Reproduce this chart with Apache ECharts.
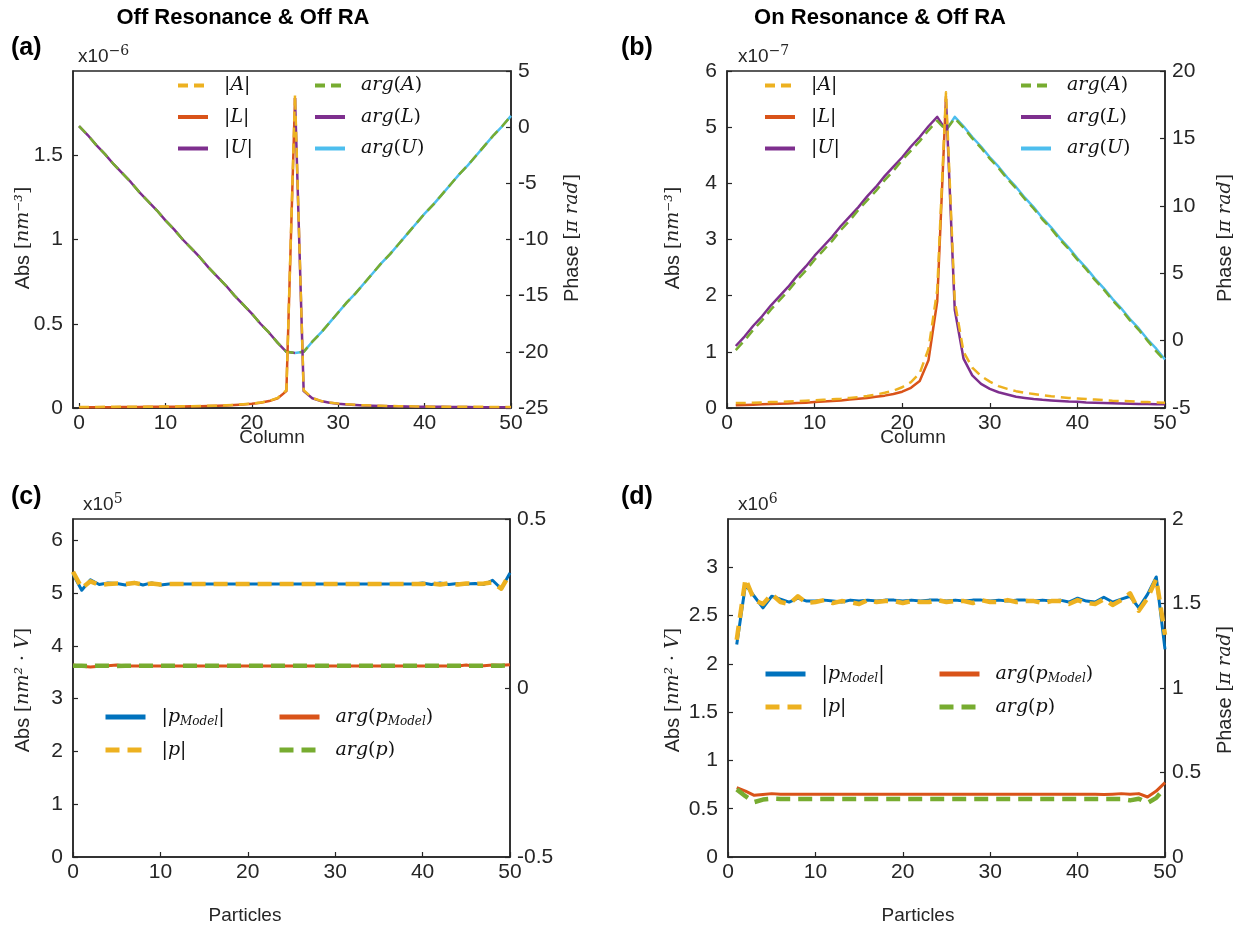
<!DOCTYPE html>
<html>
<head>
<meta charset="utf-8">
<script src="https://cdn.jsdelivr.net/npm/echarts@6/dist/echarts.min.js"></script>
<style>
  html, body { margin: 0; padding: 0; background: #fff; }
  #main { width: 1243px; height: 932px; }
</style>
</head>
<body>
<div id="main"></div>
<script>
// ---------- (a) Off resonance: column profile (abs in 1e-6 nm^-3, phase in pi rad) ----------
const offCols = [0,1,2,3,4,5,6,7,8,9,10,11,12,13,14,15,16,17,18,19,20,21,22,23,24,25,
  26,27,28,29,30,31,32,33,34,35,36,37,38,39,40,41,42,43,44,45,46,47,48,49,50];
const offAbsA = [0.006,0.006,0.006,0.007,0.007,0.007,0.007,0.008,0.008,0.008,
  0.009,0.009,0.010,0.011,0.012,0.013,0.014,0.016,0.019,0.022,
  0.026,0.032,0.042,0.060,0.105,1.86,0.105,0.060,0.042,0.032,
  0.026,0.022,0.019,0.016,0.014,0.013,0.012,0.011,0.010,0.009,
  0.009,0.008,0.008,0.008,0.007,0.007,0.007,0.007,0.006,0.006,
  0.006];
const offAbsL = [0.004,0.004,0.005,0.005,0.005,0.006,0.006,0.006,0.007,0.007,
  0.008,0.008,0.009,0.010,0.011,0.012,0.013,0.015,0.018,0.021,
  0.025,0.031,0.041,0.058,0.100,1.84];
const offAbsU = [1.84,0.100,0.058,0.041,0.031,0.025,0.021,0.018,0.015,0.013,
  0.012,0.011,0.010,0.009,0.008,0.008,0.007,0.007,0.006,0.006,
  0.006,0.005,0.005,0.005,0.004,0.004];
const offArgA = [0.1,-0.7,-1.6,-2.4,-3.3,-4.1,-4.9,-5.8,-6.6,-7.4,
  -8.3,-9.1,-10.0,-10.8,-11.6,-12.5,-13.3,-14.1,-15.0,-15.8,
  -16.6,-17.5,-18.3,-19.2,-20.0,-20.1,-20.0,-19.1,-18.3,-17.4,
  -16.5,-15.6,-14.8,-13.9,-13.0,-12.1,-11.3,-10.4,-9.5,-8.6,
  -7.7,-6.9,-6.0,-5.1,-4.2,-3.4,-2.5,-1.6,-0.7,0.1,
  1.0];
const offArgL = [0.1,-0.7,-1.6,-2.4,-3.3,-4.1,-4.9,-5.8,-6.6,-7.4,
  -8.3,-9.1,-10.0,-10.8,-11.6,-12.5,-13.3,-14.1,-15.0,-15.8,
  -16.6,-17.5,-18.3,-19.2,-20.0,-20.1];
const offArgU = [-20.1,-20.0,-19.1,-18.3,-17.4,-16.5,-15.6,-14.8,-13.9,-13.0,
  -12.1,-11.3,-10.4,-9.5,-8.6,-7.7,-6.9,-6.0,-5.1,-4.2,
  -3.4,-2.5,-1.6,-0.7,0.1,1.0];

// ---------- (b) On resonance: column profile (abs in 1e-7 nm^-3, phase in pi rad) ----------
const onCols = [1,2,3,4,5,6,7,8,9,10,11,12,13,14,15,16,17,18,19,20,21,22,23,24,25,
  26,27,28,29,30,31,32,33,34,35,36,37,38,39,40,41,42,43,44,45,46,47,48,49,50];
const onAbsA = [0.09,0.09,0.095,0.10,0.105,0.11,0.115,0.12,0.13,0.135,
  0.145,0.155,0.165,0.18,0.195,0.215,0.24,0.27,0.31,0.37,
  0.46,0.62,1.05,2.1,5.62,1.9,1.0,0.72,0.57,0.47,
  0.39,0.34,0.30,0.27,0.25,0.23,0.21,0.195,0.18,0.17,
  0.16,0.15,0.14,0.13,0.125,0.12,0.11,0.105,0.10,0.095];
const onAbsL = [0.05,0.055,0.06,0.065,0.07,0.075,0.08,0.09,0.095,0.105,
  0.115,0.125,0.135,0.15,0.165,0.18,0.2,0.22,0.25,0.29,
  0.36,0.48,0.85,1.9,5.55];
const onAbsU = [5.5,1.75,0.88,0.58,0.43,0.34,0.28,0.24,0.2,0.18,
  0.16,0.145,0.135,0.125,0.115,0.11,0.1,0.095,0.09,0.085,
  0.08,0.077,0.073,0.07,0.067,0.065];
const onArgA = [-0.7,0.0,0.8,1.5,2.3,3.0,3.7,4.5,5.2,6.0,
  6.7,7.4,8.2,8.9,9.7,10.4,11.1,11.9,12.6,13.4,
  14.1,14.8,15.6,16.3,15.6,16.5,15.8,15.0,14.3,13.5,
  12.8,12.0,11.3,10.5,9.8,9.0,8.3,7.5,6.8,6.0,
  5.3,4.5,3.8,3.0,2.3,1.5,0.8,0.0,-0.8,-1.5];
const onArgL = [-0.4,0.3,1.1,1.8,2.6,3.3,4.0,4.8,5.5,6.3,
  7.0,7.7,8.5,9.2,9.9,10.7,11.4,12.2,12.9,13.6,
  14.4,15.1,15.9,16.6,15.6];
const onArgU = [15.6,16.6,15.9,15.1,14.4,13.6,12.9,12.1,11.4,10.6,
  9.9,9.1,8.4,7.6,6.9,6.1,5.4,4.6,3.9,3.1,
  2.4,1.6,0.9,0.1,-0.6,-1.4];

// ---------- (c) Off resonance: particle moments (abs in 1e5 nm^2 V, phase in pi rad) ----------
const offParticles = [0,1,2,3,4,5,6,7,8,9,10,11,12,13,14,15,16,17,18,19,20,21,22,23,24,25,
  26,27,28,29,30,31,32,33,34,35,36,37,38,39,40,41,42,43,44,45,46,47,48,49,50];
const offPModelAbs = [5.36,5.05,5.25,5.16,5.19,5.18,5.15,5.20,5.15,5.19,
  5.15,5.17,5.17,5.17,5.17,5.17,5.17,5.17,5.17,5.17,
  5.17,5.17,5.17,5.17,5.17,5.17,5.17,5.17,5.17,5.17,
  5.17,5.17,5.17,5.17,5.17,5.17,5.17,5.17,5.17,5.17,
  5.19,5.16,5.19,5.16,5.18,5.17,5.18,5.16,5.24,5.08,
  5.38];
const offPAbs = [5.40,5.09,5.22,5.15,5.17,5.18,5.17,5.19,5.16,5.18,
  5.16,5.17,5.17,5.17,5.17,5.17,5.17,5.17,5.17,5.17,
  5.17,5.17,5.17,5.17,5.17,5.17,5.17,5.17,5.17,5.17,
  5.17,5.17,5.17,5.17,5.17,5.17,5.17,5.17,5.17,5.17,
  5.17,5.18,5.16,5.18,5.16,5.18,5.17,5.18,5.20,5.08,
  5.37];
const offPModelArg = [0.068,0.064,0.062,0.064,0.066,0.068,0.065,0.065,0.065,0.065,
  0.065,0.065,0.065,0.065,0.065,0.065,0.065,0.065,0.065,0.065,
  0.065,0.065,0.065,0.065,0.065,0.065,0.065,0.065,0.065,0.065,
  0.065,0.065,0.065,0.065,0.065,0.065,0.065,0.065,0.065,0.065,
  0.065,0.065,0.065,0.065,0.065,0.068,0.064,0.066,0.068,0.067,
  0.069];
const offPArg = [0.066,0.066,0.065,0.066,0.066,0.065,0.066,0.066,0.066,0.066,
  0.066,0.066,0.066,0.066,0.066,0.066,0.066,0.066,0.066,0.066,
  0.066,0.066,0.066,0.066,0.066,0.066,0.066,0.066,0.066,0.066,
  0.066,0.066,0.066,0.066,0.066,0.066,0.066,0.066,0.066,0.066,
  0.066,0.066,0.066,0.066,0.066,0.066,0.066,0.066,0.066,0.066,
  0.067];

// ---------- (d) On resonance: particle moments (abs in 1e6 nm^2 V, phase in pi rad) ----------
const onParticles = [1,2,3,4,5,6,7,8,9,10,11,12,13,14,15,16,17,18,19,20,21,22,23,24,25,
  26,27,28,29,30,31,32,33,34,35,36,37,38,39,40,41,42,43,44,45,46,47,48,49,50];
const onPModelAbs = [2.20,2.82,2.70,2.58,2.70,2.67,2.64,2.68,2.65,2.65,
  2.66,2.65,2.64,2.66,2.65,2.66,2.65,2.66,2.66,2.65,
  2.66,2.65,2.66,2.66,2.65,2.66,2.65,2.66,2.66,2.65,
  2.66,2.65,2.66,2.66,2.65,2.66,2.65,2.66,2.64,2.68,
  2.65,2.64,2.69,2.64,2.67,2.70,2.58,2.72,2.90,2.15];
const onPAbs = [2.25,2.88,2.66,2.62,2.72,2.64,2.62,2.70,2.63,2.64,
  2.66,2.63,2.65,2.64,2.62,2.66,2.64,2.65,2.65,2.63,
  2.65,2.64,2.64,2.66,2.64,2.65,2.65,2.63,2.66,2.64,
  2.64,2.66,2.64,2.65,2.65,2.63,2.65,2.65,2.62,2.66,
  2.63,2.62,2.67,2.61,2.66,2.73,2.55,2.68,2.88,2.30];
const onPModelArg = [0.41,0.39,0.365,0.37,0.375,0.372,0.372,0.372,0.372,0.372,
  0.372,0.372,0.372,0.372,0.372,0.372,0.372,0.372,0.372,0.372,
  0.372,0.372,0.372,0.372,0.372,0.372,0.372,0.372,0.372,0.372,
  0.372,0.372,0.372,0.372,0.372,0.372,0.372,0.372,0.372,0.372,
  0.372,0.372,0.37,0.372,0.375,0.372,0.375,0.355,0.39,0.44];
const onPArg = [0.40,0.36,0.325,0.34,0.345,0.343,0.343,0.343,0.343,0.343,
  0.343,0.343,0.343,0.343,0.343,0.343,0.343,0.343,0.343,0.343,
  0.343,0.343,0.343,0.343,0.343,0.343,0.343,0.343,0.343,0.343,
  0.343,0.343,0.343,0.343,0.343,0.343,0.343,0.343,0.343,0.343,
  0.343,0.343,0.343,0.343,0.343,0.335,0.345,0.32,0.35,0.41];

// ---------- styling ----------
const C = {
  blue: '#0072BD', orange: '#D95319', yellow: '#EDB120',
  purple: '#7E2F8E', green: '#77AC30', cyan: '#4DBEEE'
};
const SANS = '"Liberation Sans", Arial, sans-serif';
const SERIF = '"DejaVu Serif", serif';
const INK = '#262626';

const pts = (xs, ys) => ys.map((v, i) => [xs[i], v]);

function line(name, g, side, data, color, width, dash) {
  return {
    type: 'line', name: name, xAxisIndex: g, yAxisIndex: g * 2 + side,
    data: data, symbol: 'none', showSymbol: false, silent: true, animation: false,
    lineStyle: { color: color, width: width, type: dash || 'solid', cap: 'butt', join: 'round' },
    itemStyle: { color: color }
  };
}

const DASH_S = [10, 6];
const DASH_L = [14, 8];

const series = [
  // (a) phase
  line('a:arg(L)', 0, 1, pts(offCols.slice(0, 26), offArgL), C.purple, 2.5),
  line('a:arg(U)', 0, 1, pts(offCols.slice(25), offArgU), C.cyan, 2.5),
  line('a:arg(A)', 0, 1, pts(offCols, offArgA), C.green, 2.5, DASH_S),
  // (a) abs
  line('a:|L|', 0, 0, pts(offCols.slice(0, 26), offAbsL), C.orange, 2.5),
  line('a:|U|', 0, 0, pts(offCols.slice(25), offAbsU), C.purple, 2.5),
  line('a:|A|', 0, 0, pts(offCols, offAbsA), C.yellow, 2.5, DASH_S),
  // (b) phase
  line('b:arg(L)', 1, 1, pts(onCols.slice(0, 25), onArgL), C.purple, 2.5),
  line('b:arg(U)', 1, 1, pts(onCols.slice(24), onArgU), C.cyan, 2.5),
  line('b:arg(A)', 1, 1, pts(onCols, onArgA), C.green, 2.5, DASH_S),
  // (b) abs
  line('b:|L|', 1, 0, pts(onCols.slice(0, 25), onAbsL), C.orange, 2.5),
  line('b:|U|', 1, 0, pts(onCols.slice(24), onAbsU), C.purple, 2.5),
  line('b:|A|', 1, 0, pts(onCols, onAbsA), C.yellow, 2.5, DASH_S),
  // (c)
  line('c:|p_Model|', 2, 0, pts(offParticles, offPModelAbs), C.blue, 3),
  line('c:|p|', 2, 0, pts(offParticles, offPAbs), C.yellow, 4.5, DASH_L),
  line('c:arg(p_Model)', 2, 1, pts(offParticles, offPModelArg), C.orange, 3),
  line('c:arg(p)', 2, 1, pts(offParticles, offPArg), C.green, 4.5, DASH_L),
  // (d)
  line('d:|p_Model|', 3, 0, pts(onParticles, onPModelAbs), C.blue, 3),
  line('d:|p|', 3, 0, pts(onParticles, onPAbs), C.yellow, 4.5, DASH_L),
  line('d:arg(p_Model)', 3, 1, pts(onParticles, onPModelArg), C.orange, 3),
  line('d:arg(p)', 3, 1, pts(onParticles, onPArg), C.green, 4.5, DASH_L)
];

// ---------- grids & axes ----------
const grids = [
  { left: 73, top: 71, width: 438, height: 337 },
  { left: 727, top: 71, width: 438, height: 337 },
  { left: 73, top: 519, width: 437, height: 338 },
  { left: 728, top: 519, width: 437, height: 338 }
].map(g => Object.assign(g, { show: true, borderColor: INK, borderWidth: 1.5, containLabel: false }));

const axisLine = { show: true, onZero: false, lineStyle: { color: INK, width: 1.5 } };
const axisTick = { show: true, inside: true, length: 5, lineStyle: { color: INK, width: 1.2 } };
const tickFont = { fontFamily: SANS, fontSize: 21, color: INK };

const xTicks = [0, 10, 20, 30, 40, 50];
const xAxes = [0, 1, 2, 3].map(i => {
  const ax = {
    type: 'value', gridIndex: i, min: 0, max: 50, interval: 10,
    axisLine: axisLine, axisTick: axisTick, splitLine: { show: false },
    axisLabel: Object.assign({ margin: 5 }, tickFont)
  };
  if (i === 0) {
    // panel (a) starts slightly left of column 0
    ax.min = -0.7;
    delete ax.interval;
    ax.axisLabel = Object.assign({ margin: 5, customValues: xTicks }, tickFont);
    ax.axisTick = Object.assign({ customValues: xTicks }, axisTick);
  }
  return ax;
});

function yAx(g, pos, min, max, interval, showMax) {
  return {
    type: 'value', gridIndex: g, position: pos, min: min, max: max, interval: interval,
    axisLine: axisLine, axisTick: axisTick, splitLine: { show: false },
    axisLabel: Object.assign({ margin: pos === 'left' ? 10 : 7, showMaxLabel: showMax, showMinLabel: true }, tickFont)
  };
}
const yAxes = [
  yAx(0, 'left', 0, 2, 0.5, false), yAx(0, 'right', -25, 5, 5, true),
  yAx(1, 'left', 0, 6, 1, true), yAx(1, 'right', -5, 20, 5, true),
  yAx(2, 'left', 0, 6.4, 1, false), yAx(2, 'right', -0.5, 0.5, 0.5, true),
  yAx(3, 'left', 0, 3.5, 0.5, false), yAx(3, 'right', 0, 2, 0.5, true)
];

// ---------- legends ----------
const legendRich = {
  g: { width: 11, fontSize: 12 },
  i: { fontFamily: SERIF, fontStyle: 'italic', fontSize: 19, color: '#111', lineHeight: 24 },
  r: { fontFamily: SERIF, fontSize: 19, color: '#111', lineHeight: 24 },
  s: { fontFamily: SERIF, fontStyle: 'italic', fontSize: 12, color: '#111', lineHeight: 14, padding: [10, 0, 0, 0] }
};
const legendText = {
  '|A|': '{g| }{r||}{i|A}{r||}',
  '|L|': '{g| }{r||}{i|L}{r||}',
  '|U|': '{g| }{r||}{i|U}{r||}',
  'arg(A)': '{g| }{i|arg}{r|(}{i|A}{r|)}',
  'arg(L)': '{g| }{i|arg}{r|(}{i|L}{r|)}',
  'arg(U)': '{g| }{i|arg}{r|(}{i|U}{r|)}',
  '|p_Model|': '{g| }{r||}{i|p}{s|Model}{r||}',
  '|p|': '{g| }{r||}{i|p}{r||}',
  'arg(p_Model)': '{g| }{i|arg}{r|(}{i|p}{s|Model}{r|)}',
  'arg(p)': '{g| }{i|arg}{r|(}{i|p}{r|)}'
};
function legend(left, top, names, itemWidth, lineWidth) {
  return {
    orient: 'vertical', left: left, top: top, padding: 0,
    itemWidth: itemWidth, itemHeight: 14, itemGap: 12.5,
    selectedMode: false, data: names,
    lineStyle: { width: lineWidth },
    itemStyle: { opacity: 0 },
    formatter: n => legendText[n.slice(2)],
    textStyle: { rich: legendRich }
  };
}
const legends = [
  legend(176, 76, ['a:|A|', 'a:|L|', 'a:|U|'], 30, 4),
  legend(313, 76, ['a:arg(A)', 'a:arg(L)', 'a:arg(U)'], 30, 4),
  legend(763, 76, ['b:|A|', 'b:|L|', 'b:|U|'], 30, 4),
  legend(1019, 76, ['b:arg(A)', 'b:arg(L)', 'b:arg(U)'], 30, 4),
  legend(103, 706, ['c:|p_Model|', 'c:|p|'], 40, 5),
  legend(277, 706, ['c:arg(p_Model)', 'c:arg(p)'], 40, 5),
  legend(763, 663, ['d:|p_Model|', 'd:|p|'], 40, 5),
  legend(937, 663, ['d:arg(p_Model)', 'd:arg(p)'], 40, 5)
];

// ---------- titles, panel tags, multipliers, axis titles ----------
function txt(x, y, text, font, align) {
  return { type: 'text', x: x, y: y, silent: true,
    style: { text: text, font: font, fill: '#000', align: align || 'center', verticalAlign: 'middle' } };
}
const nameRich = {
  t: { fontFamily: SANS, fontSize: 20, fill: INK },
  m: { fontFamily: SERIF, fontSize: 19, fill: INK },
  mi: { fontFamily: SERIF, fontStyle: 'italic', fontSize: 19, fill: INK }
};
function rotName(x, y, text) {
  return { type: 'text', x: x, y: y, rotation: Math.PI / 2, silent: true,
    style: { text: text, rich: nameRich, align: 'center', verticalAlign: 'middle' } };
}
function xName(x, y, text) {
  return { type: 'text', x: x, y: y, silent: true,
    style: { text: text, font: '19px ' + SANS, fill: INK, align: 'center', verticalAlign: 'middle' } };
}
const multRich = {
  a: { fontFamily: SANS, fontSize: 19, fill: INK },
  b: { fontFamily: SERIF, fontSize: 14, fill: INK, padding: [0, 0, 12, 0] }
};
function mult(x, y, exp) {
  return { type: 'text', x: x, y: y, silent: true,
    style: { text: '{a|x10}{b|' + exp + '}', rich: multRich, align: 'left', verticalAlign: 'middle' } };
}
const absCubic = '{t|Abs }{m|[}{mi|nm⁻³}{m|]}';
const absMoment = '{t|Abs }{m|[}{mi|nm²}{m| · }{mi|V}{m|]}';
const phaseName = '{t|Phase }{m|[}{mi|π rad}{m|]}';

const graphics = [
  txt(243, 18, 'Off Resonance & Off RA', 'bold 22px ' + SANS),
  txt(880, 18, 'On Resonance & Off RA', 'bold 22px ' + SANS),
  txt(11, 48, '(a)', 'bold 25px ' + SANS, 'left'),
  txt(621, 48, '(b)', 'bold 25px ' + SANS, 'left'),
  txt(11, 497, '(c)', 'bold 25px ' + SANS, 'left'),
  txt(621, 497, '(d)', 'bold 25px ' + SANS, 'left'),
  mult(78, 57, '−6'), mult(738, 57, '−7'), mult(83, 505, '5'), mult(738, 505, '6'),
  rotName(23, 238, absCubic), rotName(572, 238, phaseName),
  rotName(673, 238, absCubic), rotName(1225, 238, phaseName),
  rotName(23, 690, absMoment),
  rotName(673, 690, absMoment), rotName(1225, 690, phaseName),
  xName(272, 438, 'Column'), xName(913, 438, 'Column'),
  xName(245, 916, 'Particles'), xName(918, 916, 'Particles')
];

const chart = echarts.init(document.getElementById('main'), null, { renderer: 'canvas' });
chart.setOption({
  backgroundColor: '#fff',
  animation: false,
  grid: grids,
  xAxis: xAxes,
  yAxis: yAxes,
  legend: legends,
  series: series,
  graphic: graphics
});
</script>
</body>
</html>
